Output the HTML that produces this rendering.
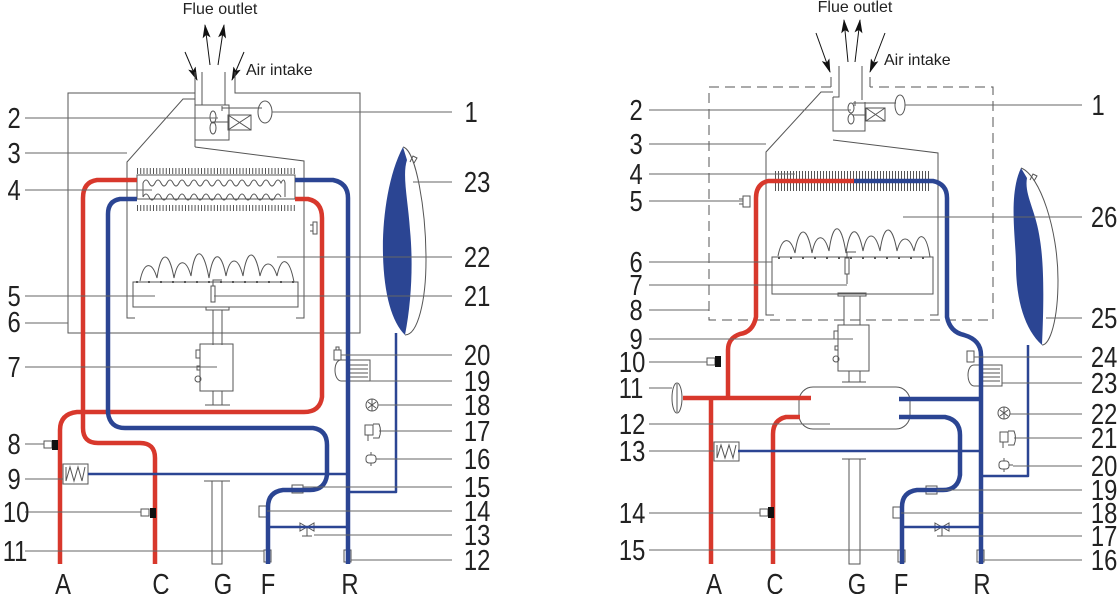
<!DOCTYPE html>
<html><head><meta charset="utf-8"><style>
html,body{margin:0;padding:0;background:#fff;}
svg{display:block;}
.n{font-family:"Liberation Sans",sans-serif;font-size:29px;fill:#222;}
.n text{transform-box:fill-box;transform-origin:50% 50%;transform:scaleX(0.82);}
.t{font-family:"Liberation Sans",sans-serif;font-size:16px;fill:#222;}
</style></head><body>
<svg width="1120" height="594" viewBox="0 0 1120 594" xmlns="http://www.w3.org/2000/svg">
<defs>
<marker id="ah" viewBox="0 0 14 8" refX="13" refY="4" markerWidth="14" markerHeight="8" markerUnits="userSpaceOnUse" orient="auto"><path d="M0,0 L14,4 L0,8 L3,4 Z" fill="#111"/></marker>
</defs>
<g fill="none" stroke="#555" stroke-width="1">
<!-- ================= LEFT ================= -->
<line x1="210" y1="65" x2="205" y2="25" stroke="#111" marker-end="url(#ah)"/>
<line x1="218" y1="65" x2="224" y2="25" stroke="#111" marker-end="url(#ah)"/>
<line x1="185" y1="52" x2="197" y2="80" stroke="#111" marker-end="url(#ah)"/>
<line x1="244" y1="52" x2="232" y2="80" stroke="#111" marker-end="url(#ah)"/>
<path d="M195,72 V93 H68 V333 H360 V93 H235 V72"/>
<path d="M202,72 V105 H195 M225,72 V105"/>
<path d="M195,93 V147 M195,140 H229 V105 H202"/>
<rect x="228" y="115" width="23" height="15"/><path d="M228,115 L251,130 M251,115 L228,130"/>
<ellipse cx="213" cy="117" rx="3" ry="6"/><ellipse cx="213" cy="128" rx="3" ry="6"/>
<line x1="213" y1="122" x2="228" y2="122"/>
<path d="M222,108 H262 M222,106 V111"/>
<ellipse cx="265" cy="112" rx="7" ry="11"/>
<path d="M195,99 H183 L127,162 V318 H135"/>
<path d="M195,147 L304,161 V318 H296"/>
<rect x="137" y="175" width="158" height="24"/>
<g stroke-dasharray="1 2.2" stroke-width="6">
<line x1="137" y1="171" x2="295" y2="171"/><line x1="137" y1="208" x2="295" y2="208"/>
</g>
<path d="M143,183 q3,-6 6,0 t6,0 t6,0 t6,0 t6,0 t6,0 t6,0 t6,0 t6,0 t6,0 t6,0 t6,0 t6,0 t6,0 t6,0 t6,0 t6,0 t6,0 t6,0 t6,0 t6,0 t6,0 t6,0 q3,-6 4,0 V197"/>
<path d="M143,197 q3,-6 6,0 t6,0 t6,0 t6,0 t6,0 t6,0 t6,0 t6,0 t6,0 t6,0 t6,0 t6,0 t6,0 t6,0 t6,0 t6,0 t6,0 t6,0 t6,0 t6,0 t6,0 t6,0 t6,0 M143,183 V197"/>
<rect x="313" y="222" width="4" height="12"/><path d="M313,225 h-3 M313,231 h-3"/>
<rect x="133" y="282" width="165" height="25"/>
<path d="M140,281 c4,-20 12,-20 17,-3 c4,-28 12,-28 17,0 c4,-20 12,-20 17,-2 c4,-30 12,-30 18,2 c4,-28 12,-28 17,-2 c4,-20 12,-20 17,0 c4,-28 12,-28 17,0 c4,-16 12,-16 17,0 c4,-20 12,-20 17,6"/>
<path d="M136,282 H296" stroke-dasharray="2 10" stroke-width="2"/>
<rect x="211" y="286" width="4" height="16"/><path d="M213,286 V280 H222"/>
<path d="M127,318 H135 M296,318 H304"/>
<rect x="206" y="307" width="23" height="3"/>
<path d="M213,310 V345 M222,310 V345"/>
<rect x="200" y="344" width="33" height="47"/>
<rect x="196" y="350" width="4" height="8"/><rect x="197" y="366" width="3" height="4"/><circle cx="198" cy="379" r="3"/>
<path d="M213,391 V405 M222,391 V405 M205,405 H230"/>
<path d="M204,481 H230 M212,481 V564 H222 V481"/>
<path d="M403,147 C416,150 426,210 426,260 C426,300 418,335 405,335"/>
<path d="M410,162 l3,-6 l4,2 l-3,5"/>
<rect x="334" y="350" width="7" height="10"/><path d="M336,350 v-3 h3 v3"/>
<path d="M341,360 C333,360 333,380 341,381 H370 V360 H341"/>
<path d="M350,365 H368 M350,369 H368 M350,373 H368 M350,377 H368"/>
<circle cx="372" cy="405" r="6"/><path d="M368,402 l8,6 M376,402 l-8,6 M372,399 v12"/>
<rect x="365" y="425" width="8" height="10"/><path d="M373,424 h6 q3,7 0,14 h-6 M368,435 v6"/>
<rect x="366" y="455" width="10" height="8" rx="3"/><path d="M371,452 v3 M371,463 v3 M376,459 h4"/>
<rect x="292" y="485" width="11" height="8"/>
<rect x="259" y="506" width="8" height="11"/>
<path d="M300,523 l14,8 v-8 l-14,8 z M307,527 v9 M302,536 h10"/>
<rect x="264" y="550" width="7" height="12"/>
<rect x="344" y="550" width="7" height="12"/>
<rect x="44" y="441" width="8" height="7"/><rect x="141" y="509" width="8" height="7"/>
<rect x="63" y="464" width="25" height="20"/>
<path d="M66,467 V481 L70,467 L74,481 L78,467 L82,481 L85,467"/>
</g>
<g fill="none" stroke-width="4.5" stroke-linejoin="round">
<path stroke="#d8382c" d="M137,180 H97 Q83,182 83,198 V428 Q83,443 98,443 H140 Q155,443 155,458 V564"/>
<path stroke="#d8382c" d="M295,199 H308 Q322,202 322,218 V397 Q320,412 304,412 H77 Q60,414 60,430 V564"/>
<path stroke="#2b4593" d="M137,199 H120 Q108,201 108,214 V413 Q110,428 125,428 H313 Q327,430 327,445 V475 Q325,490 310,490 H283 Q268,492 268,507 V564"/>
<path stroke="#2b4593" d="M295,180 H333 Q348,183 348,198 V564"/>
<path stroke="#2b4593" stroke-width="2.5" d="M88,474 H348 M348,492 H396 V333 M268,527 H348"/>
</g>
<path d="M403,147 C388,175 382,220 383,255 C384,295 392,322 405,335 C412,300 413,260 410,230 C408,200 402,175 407,160 Z" fill="#2b4593"/>
<rect x="150" y="508" width="6" height="10" fill="#111"/>
<rect x="52" y="440" width="6" height="10" fill="#111"/>
<g stroke="#666" stroke-width="1">
<path d="M25,118 H218 M25,153 H127 M25,190 H152 M25,296 H155 M25,323 H68 M25,367 H217 M25,444 H44 M25,479 H63 M25,512 H141 M25,551 H264"/>
<path d="M272,112 H452 M413,182 H452 M277,257 H452 M214,296 H452 M341,355 H452 M370,381 H452 M378,405 H452 M379,431 H452 M380,459 H452 M303,487 H452 M267,511 H452 M314,535 H452 M351,560 H452"/>
</g>
<text class="t" x="220" y="14" text-anchor="middle">Flue outlet</text>
<text class="t" x="246" y="75">Air intake</text>
<g class="n">
<text x="6" y="128">2</text><text x="6" y="163">3</text><text x="6" y="200">4</text><text x="6" y="306">5</text><text x="6" y="332">6</text><text x="6" y="377">7</text><text x="6" y="454">8</text><text x="6" y="489">9</text><text x="0" y="522">10</text><text x="0" y="561">11</text>
<text x="463" y="122">1</text><text x="461" y="192">23</text><text x="461" y="267">22</text><text x="461" y="306">21</text><text x="461" y="365">20</text><text x="461" y="391">19</text><text x="461" y="415">18</text><text x="461" y="441">17</text><text x="461" y="469">16</text><text x="461" y="497">15</text><text x="461" y="521">14</text><text x="461" y="545">13</text><text x="461" y="570">12</text>
<text x="63" y="594" text-anchor="middle">A</text><text x="161" y="594" text-anchor="middle">C</text><text x="223" y="594" text-anchor="middle">G</text><text x="268" y="594" text-anchor="middle">F</text><text x="350" y="594" text-anchor="middle">R</text>
</g>

<!-- ================= RIGHT ================= -->
<g fill="none" stroke="#555" stroke-width="1">
<line x1="848" y1="62" x2="844" y2="20" stroke="#111" marker-end="url(#ah)"/>
<line x1="855" y1="62" x2="860" y2="20" stroke="#111" marker-end="url(#ah)"/>
<line x1="816" y1="33" x2="830" y2="72" stroke="#111" marker-end="url(#ah)"/>
<line x1="885" y1="33" x2="870" y2="72" stroke="#111" marker-end="url(#ah)"/>
<path stroke-dasharray="10 6" d="M831,87 H709 V320 H993 V87 H870"/>
<path d="M831,77 V87 M870,77 V87"/>
<path d="M839,66 V97 H833 M862,66 V100"/>
<path d="M833,97 V131 H865 V102"/>
<rect x="866" y="108" width="19" height="13"/><path d="M866,108 L885,121 M885,108 L866,121"/>
<ellipse cx="851" cy="108" rx="3" ry="5"/><ellipse cx="851" cy="119" rx="3" ry="5"/>
<path d="M853,103 H896 M855,101 V106 M853,115 H866"/>
<ellipse cx="900" cy="105" rx="5" ry="10"/>
<path d="M833,92 H821 L766,152 V315 H774"/>
<path d="M833,140 L938,153 V315 H930"/>
<g stroke-dasharray="1 2" stroke-width="20"><line x1="775" y1="181" x2="930" y2="181"/></g>
<rect x="772" y="257" width="161" height="37"/>
<path d="M778,256 c4,-20 12,-20 17,-3 c4,-28 12,-28 17,0 c4,-20 12,-20 17,-2 c4,-30 12,-30 17,2 c4,-28 12,-28 17,-2 c4,-20 12,-20 17,0 c4,-28 12,-28 17,0 c4,-16 12,-16 17,0 c4,-20 12,-20 16,6"/>
<path d="M778,258 H928" stroke-dasharray="2 10" stroke-width="2"/>
<rect x="845" y="258" width="4" height="16"/><path d="M847,258 V252 H856 M847,274 V284"/>
<rect x="838" y="293" width="28" height="3"/>
<path d="M844,296 V325 M860,296 V325"/>
<rect x="838" y="325" width="31" height="46"/>
<rect x="834" y="331" width="4" height="8"/><rect x="835" y="346" width="3" height="4"/><circle cx="836" cy="359" r="3"/>
<path d="M849,371 V382 M860,371 V382 M842,382 H866"/>
<path d="M842,459 H866 M849,459 V564 H860 V459"/>
<rect x="799" y="387" width="111" height="42" rx="14"/>
<ellipse cx="677" cy="398" rx="5" ry="15"/><path d="M677,384 V412"/>
<rect x="714" y="442" width="25" height="19"/>
<path d="M717,445 V458 L721,445 L725,458 L729,445 L733,458 L736,445"/>
<rect x="707" y="358" width="8" height="7"/><rect x="760" y="509" width="8" height="7"/>
<rect x="743" y="196" width="7" height="11"/><path d="M743,199 h-4 M743,204 h-4"/>
<path d="M1021,168 C1040,175 1058,230 1058,280 C1058,320 1050,345 1042,345"/>
<path d="M1030,180 l3,-6 l4,2 l-3,5"/>
<rect x="967" y="351" width="7" height="11"/>
<path d="M974,365 C966,365 966,385 974,386 H1002 V365 H974 M982,369 H1000 M982,373 H1000 M982,377 H1000 M982,381 H1000"/>
<circle cx="1004" cy="413" r="6"/><path d="M1000,410 l8,6 M1008,410 l-8,6 M1004,407 v12"/>
<rect x="1000" y="432" width="8" height="10"/><path d="M1008,431 h6 q3,7 0,14 h-6 M1003,442 v6"/>
<rect x="999" y="461" width="10" height="8" rx="3"/><path d="M1004,458 v3 M1004,469 v3 M1009,465 h4"/>
<rect x="926" y="486" width="11" height="8"/>
<rect x="893" y="507" width="8" height="11"/>
<path d="M935,523 l14,8 v-8 l-14,8 z M942,527 v9 M937,536 h10"/>
<rect x="898" y="550" width="7" height="12"/>
<rect x="977" y="550" width="7" height="12"/>
</g>
<g fill="none" stroke-width="4.5" stroke-linejoin="round">
<path stroke="#d8382c" d="M854,181 H768 Q756,184 756,198 V317 Q753,332 740,334 Q728,338 728,350 V398"/>
<path stroke="#d8382c" d="M683,398 H811 M711,398 V564 M800,417 H786 Q773,420 773,434 V564"/>
<path stroke="#2b4593" d="M854,181 H933 Q947,184 947,198 V317 Q950,332 964,335 Q981,340 981,355 V564"/>
<path stroke="#2b4593" d="M899,399 H981 M899,417 H945 Q960,420 960,435 V475 Q958,490 943,490 H917 Q902,492 902,507 V564"/>
<path stroke="#2b4593" stroke-width="2.5" d="M738,451 H981 M981,476 H1028 V345 M902,527 H981"/>
</g>
<path d="M1021,168 C1008,195 1016,240 1016,265 C1016,300 1025,330 1042,345 C1044,300 1044,265 1040,240 C1036,210 1024,195 1027,178 Z" fill="#2b4593"/>
<rect x="715" y="356" width="6" height="11" fill="#111"/>
<rect x="768" y="507" width="6" height="11" fill="#111"/>
<g stroke="#666" stroke-width="1">
<path d="M649,110 H851 M649,144 H766 M649,174 H795 M649,201 H743 M649,262 H772 M649,285 H847 M649,310 H709 M649,339 H853 M649,362 H707 M649,388 H672 M649,424 H830 M649,451 H714 M649,513 H760 M649,550 H898"/>
<path d="M905,105 H1082 M903,217 H1082 M1046,318 H1082 M974,357 H1082 M1002,383 H1082 M1010,414 H1082 M1014,438 H1082 M1013,466 H1082 M937,490 H1082 M901,513 H1082 M942,536 H1082 M984,560 H1082"/>
</g>
<text class="t" x="855" y="12" text-anchor="middle">Flue outlet</text>
<text class="t" x="884" y="65">Air intake</text>
<g class="n">
<text x="628" y="120">2</text><text x="628" y="154">3</text><text x="628" y="184">4</text><text x="628" y="211">5</text><text x="628" y="272">6</text><text x="628" y="295">7</text><text x="628" y="320">8</text><text x="628" y="349">9</text><text x="616" y="372">10</text><text x="616" y="398">11</text><text x="616" y="434">12</text><text x="616" y="461">13</text><text x="616" y="523">14</text><text x="616" y="560">15</text>
<text x="1090" y="115">1</text><text x="1088" y="227">26</text><text x="1088" y="328">25</text><text x="1088" y="367">24</text><text x="1088" y="393">23</text><text x="1088" y="424">22</text><text x="1088" y="448">21</text><text x="1088" y="476">20</text><text x="1088" y="500">19</text><text x="1088" y="523">18</text><text x="1088" y="546">17</text><text x="1088" y="570">16</text>
<text x="714" y="594" text-anchor="middle">A</text><text x="775" y="594" text-anchor="middle">C</text><text x="857" y="594" text-anchor="middle">G</text><text x="901" y="594" text-anchor="middle">F</text><text x="982" y="594" text-anchor="middle">R</text>
</g>
</svg>
</body></html>
